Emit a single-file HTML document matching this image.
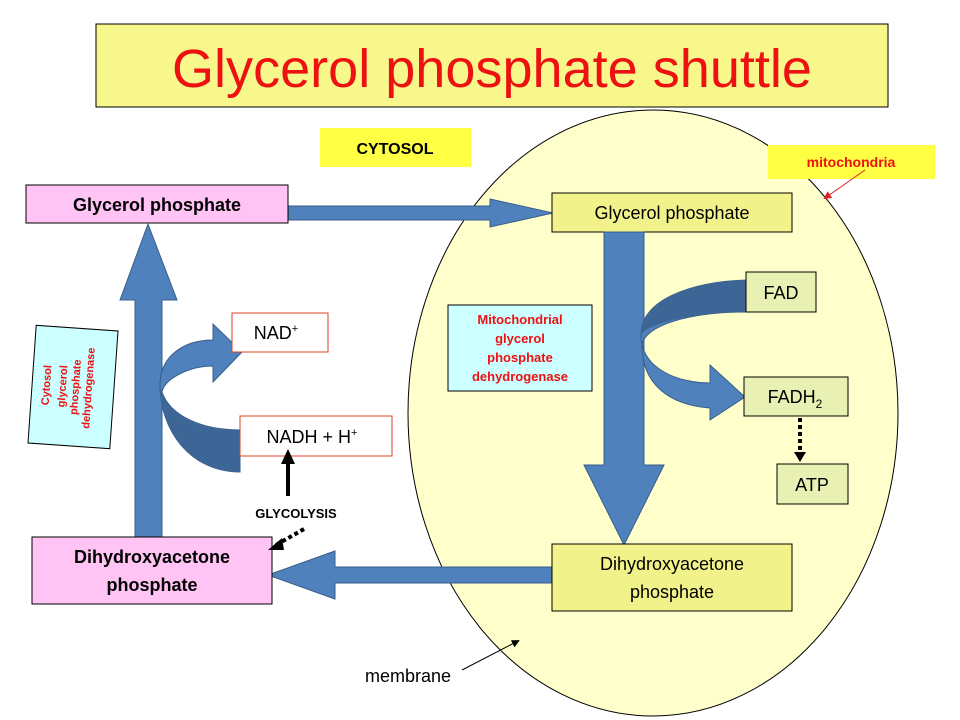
<!DOCTYPE html>
<html><head><meta charset="utf-8"><style>
body{margin:0;background:#fff;width:960px;height:720px;overflow:hidden}
svg{display:block;font-family:"Liberation Sans",sans-serif}
</style></head><body>
<svg width="960" height="720" viewBox="0 0 960 720">
<defs>
<marker id="ah" markerWidth="8" markerHeight="8" refX="6" refY="4" orient="auto"><path d="M0,0 L8,4 L0,8 Z" fill="#000"/></marker>
<marker id="ahr" markerWidth="8" markerHeight="8" refX="6" refY="4" orient="auto"><path d="M0,0 L8,4 L0,8 Z" fill="#e02020"/></marker>
</defs>
<rect x="96" y="24" width="792" height="83" fill="#f7f78c" stroke="#000" stroke-width="1"/>
<text x="492" y="87" font-size="54" fill="#ee1111" text-anchor="middle" textLength="640" lengthAdjust="spacingAndGlyphs">Glycerol phosphate shuttle</text>
<ellipse cx="653" cy="413" rx="245" ry="303" fill="#ffffcc" stroke="#000" stroke-width="1"/>
<rect x="320" y="128" width="151" height="39" fill="#ffff44"/>
<text x="395" y="154" font-size="16" font-weight="bold" text-anchor="middle">CYTOSOL</text>
<rect x="768" y="145" width="167" height="34" fill="#ffff44"/>
<text x="851" y="167" font-size="14" font-weight="bold" fill="#ee1111" text-anchor="middle">mitochondria</text>
<line x1="865" y1="170" x2="825" y2="198" stroke="#e02020" stroke-width="1" marker-end="url(#ahr)"/>
<path d="M288,206 L490,206 L490,199 L553,213 L490,227 L490,220 L288,220 Z" fill="#4f81bd" stroke="#385d8a"/>
<rect x="26" y="185" width="262" height="38" fill="#ffc4f4" stroke="#000"/>
<text x="157" y="211" font-size="18" font-weight="bold" text-anchor="middle">Glycerol phosphate</text>
<rect x="552" y="193" width="240" height="39" fill="#f2f28a" stroke="#000"/>
<text x="672" y="219" font-size="18" text-anchor="middle">Glycerol phosphate</text>
<path d="M604,232 L644,232 L644,465 L664,465 L624,545 L584,465 L604,465 Z" fill="#4f81bd" stroke="#385d8a"/>
<path d="M746,280 C690,282 641,300 641,335 C641,370 680,383 710,383 L710,365 L745,397 L710,420 L710,408 C670,405 642,385 642,345 C645,325 690,312 746,312 Z" fill="#4f81bd" stroke="#385d8a"/>
<path d="M746,280 C690,282 641,300 641,335 C645,325 690,312 746,312 Z" fill="#3d6696"/>
<rect x="746" y="272" width="70" height="40" fill="#e8f0b4" stroke="#000"/>
<text x="781" y="299" font-size="18" text-anchor="middle">FAD</text>
<rect x="744" y="377" width="104" height="39" fill="#e8f0b4" stroke="#000"/>
<text x="795" y="403" font-size="18" text-anchor="middle">FADH<tspan font-size="12" dy="5">2</tspan></text>
<rect x="777" y="464" width="71" height="40" fill="#e8f0b4" stroke="#000"/>
<text x="812" y="491" font-size="18" text-anchor="middle">ATP</text>
<line x1="800" y1="418" x2="800" y2="458" stroke="#000" stroke-width="4" stroke-dasharray="4,3"/>
<path d="M794,452 L806,452 L800,462 Z" fill="#000"/>
<rect x="448" y="305" width="144" height="86" fill="#ccffff" stroke="#000"/>
<g font-size="13" font-weight="bold" fill="#ee1111" text-anchor="middle">
<text x="520" y="324">Mitochondrial</text><text x="520" y="343">glycerol</text><text x="520" y="362">phosphate</text><text x="520" y="381">dehydrogenase</text></g>
<path d="M552,567 L335,567 L335,551 L268,575 L335,599 L335,583 L552,583 Z" fill="#4f81bd" stroke="#385d8a"/>
<rect x="552" y="544" width="240" height="67" fill="#f2f28a" stroke="#000"/>
<text x="672" y="570" font-size="18" text-anchor="middle">Dihydroxyacetone</text>
<text x="672" y="598" font-size="18" text-anchor="middle">phosphate</text>
<path d="M135,537 L162,537 L162,300 L177,300 L148,224 L120,300 L135,300 Z" fill="#4f81bd" stroke="#385d8a"/>
<rect x="32" y="537" width="240" height="67" fill="#ffc4f4" stroke="#000"/>
<text x="152" y="563" font-size="18" font-weight="bold" text-anchor="middle">Dihydroxyacetone</text>
<text x="152" y="591" font-size="18" font-weight="bold" text-anchor="middle">phosphate</text>
<path d="M240,472 C190,472 160,430 160,385 C160,355 185,340 213,340 L213,324 L242,352 L213,382 L213,366 C190,366 165,378 162,392 C170,415 200,430 240,430 Z" fill="#4f81bd" stroke="#385d8a"/>
<path d="M240,472 C190,472 160,430 160,385 C162,395 170,415 200,425 C215,430 240,430 240,430 Z" fill="#3d6696"/>
<g transform="rotate(4 73 387)">
<rect x="32" y="328" width="82" height="118" fill="#ccffff" stroke="#000"/>
<g font-size="11" font-weight="bold" fill="#ee1111" text-anchor="middle">
<text transform="translate(50 387) rotate(-90)">Cytosol</text>
<text transform="translate(66 387) rotate(-90)">glycerol</text>
<text transform="translate(79 387) rotate(-90)">phosphate</text>
<text transform="translate(92 387) rotate(-90)">dehydrogenase</text></g></g>
<rect x="232" y="313" width="96" height="39" fill="#fff" stroke="#e04020"/>
<text x="276" y="339" font-size="18" text-anchor="middle">NAD<tspan font-size="11" dy="-7">+</tspan></text>
<rect x="240" y="416" width="152" height="40" fill="#fff" stroke="#e04020"/>
<text x="312" y="443" font-size="18" text-anchor="middle">NADH + H<tspan font-size="11" dy="-7">+</tspan></text>
<line x1="288" y1="496" x2="288" y2="462" stroke="#000" stroke-width="4"/>
<path d="M281,464 L295,464 L288,449 Z" fill="#000"/>
<text x="296" y="518" font-size="13" font-weight="bold" text-anchor="middle">GLYCOLYSIS</text>
<line x1="304" y1="529" x2="276" y2="545" stroke="#000" stroke-width="4" stroke-dasharray="4,3"/>
<path d="M268,550 L282,538 L284,550 Z" fill="#000"/>
<text x="408" y="682" font-size="18" text-anchor="middle">membrane</text>
<line x1="462" y1="670" x2="518" y2="641" stroke="#000" stroke-width="1" marker-end="url(#ah)"/>
</svg>
</body></html>
